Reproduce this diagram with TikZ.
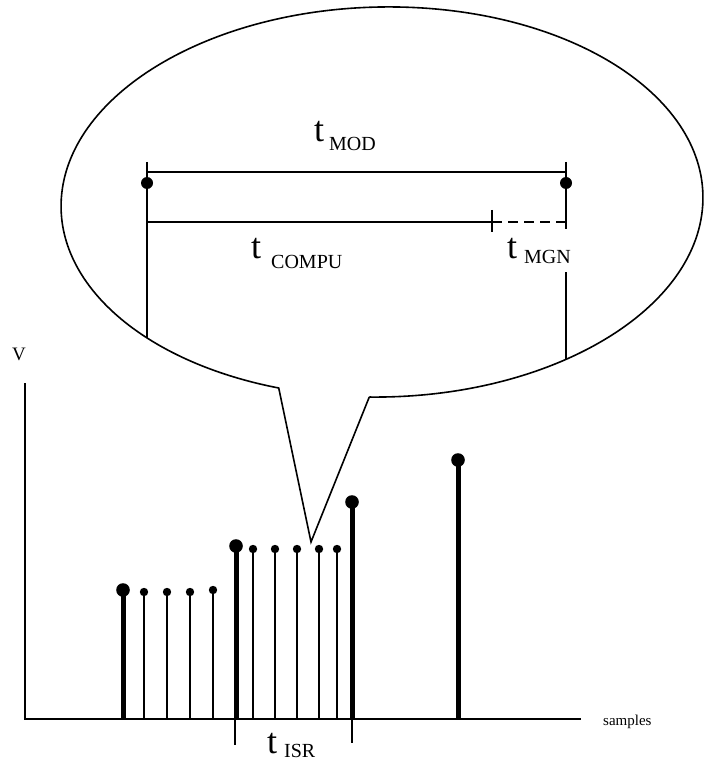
\documentclass[tikz,border=0pt]{standalone}
\usepackage{fontspec}
\setmainfont{Liberation Serif}
\begin{document}
\begin{tikzpicture}[x=1pt,y=1pt,yscale=-1,
  ln/.style={line width=1.6pt,black},
  thickstem/.style={line width=5pt,black},
  thinstem/.style={line width=1.8pt,black},
  bigT/.style={inner sep=0pt,anchor=base west,font=\fontsize{36}{36}\selectfont},
  subT/.style={inner sep=0pt,anchor=base west,font=\fontsize{20}{20}\selectfont},
  axlbl/.style={inner sep=0pt,anchor=base west}]
\useasboundingbox (0,0) rectangle (704,767);
% axes
\draw[ln] (25,383) -- (25,719) -- (581,719);
\node[axlbl,font=\fontsize{19}{19}\selectfont] (V) at (12,360) {V};
\node[axlbl,font=\fontsize{15}{15}\selectfont] (smp) at (603,725) {samples};
% thin stems
\foreach \x/\y in {144/592,167/592,190/592,213/590,253/549,275/549,297/549,319/549,337/549}{
  \draw[thinstem] (\x,719) -- (\x,\y);
  \fill (\x,\y) circle (4.2);
}
% thick stems
\foreach \x/\y in {123/590,236/546,352/502,458/460}{
  \draw[thickstem] (\x,719) -- (\x,\y);
  \fill (\x,\y) circle (6.8);
}
% t_ISR ticks
\draw[ln] (235,719) -- (235,745);
\draw[ln] (352,719) -- (352,743);
\node[bigT] (tisr) at (267,753) {t};
\node[subT] (isr) at (284,757) {ISR};
% bubble
\coordinate (tip) at (311,542);
\begin{scope}[shift={(382,202)},rotate=-1.2]
\draw[ln,fill=white] (93:321 and 195) coordinate (b2)
  arc[start angle=93,end angle=-250.5,x radius=321,y radius=195] coordinate (b1)
  -- (tip) -- (b2);
\clip (0,0) ellipse [x radius=321,y radius=195];
\end{scope}
\begin{scope}
\clip (382,202) [rotate around={-1.2:(382,202)}] ellipse [x radius=321,y radius=195];
\draw[ln] (147,162) -- (147,420);
\draw[ln] (566,162) -- (566,229);
\draw[ln] (566,272) -- (566,420);
\end{scope}
\draw[ln] (147,172) -- (566,172);
\fill (147,183) circle (6);
\fill (566,183) circle (6);
\draw[ln] (147,222) -- (492,222);
\draw[ln] (492,210) -- (492,232);
\draw[ln,dash pattern=on 10pt off 6pt] (492,222) -- (566,222);
\node[bigT] (tmod) at (314,142) {t};
\node[subT] (mod) at (329,151) {MOD};
\node[bigT] (tcompu) at (251,258) {t};
\node[subT] (compu) at (271,268) {COMPU};
\node[bigT] (tmgn) at (507,258) {t};
\node[subT] (mgn) at (524,263) {MGN};
\end{tikzpicture}
\end{document}
